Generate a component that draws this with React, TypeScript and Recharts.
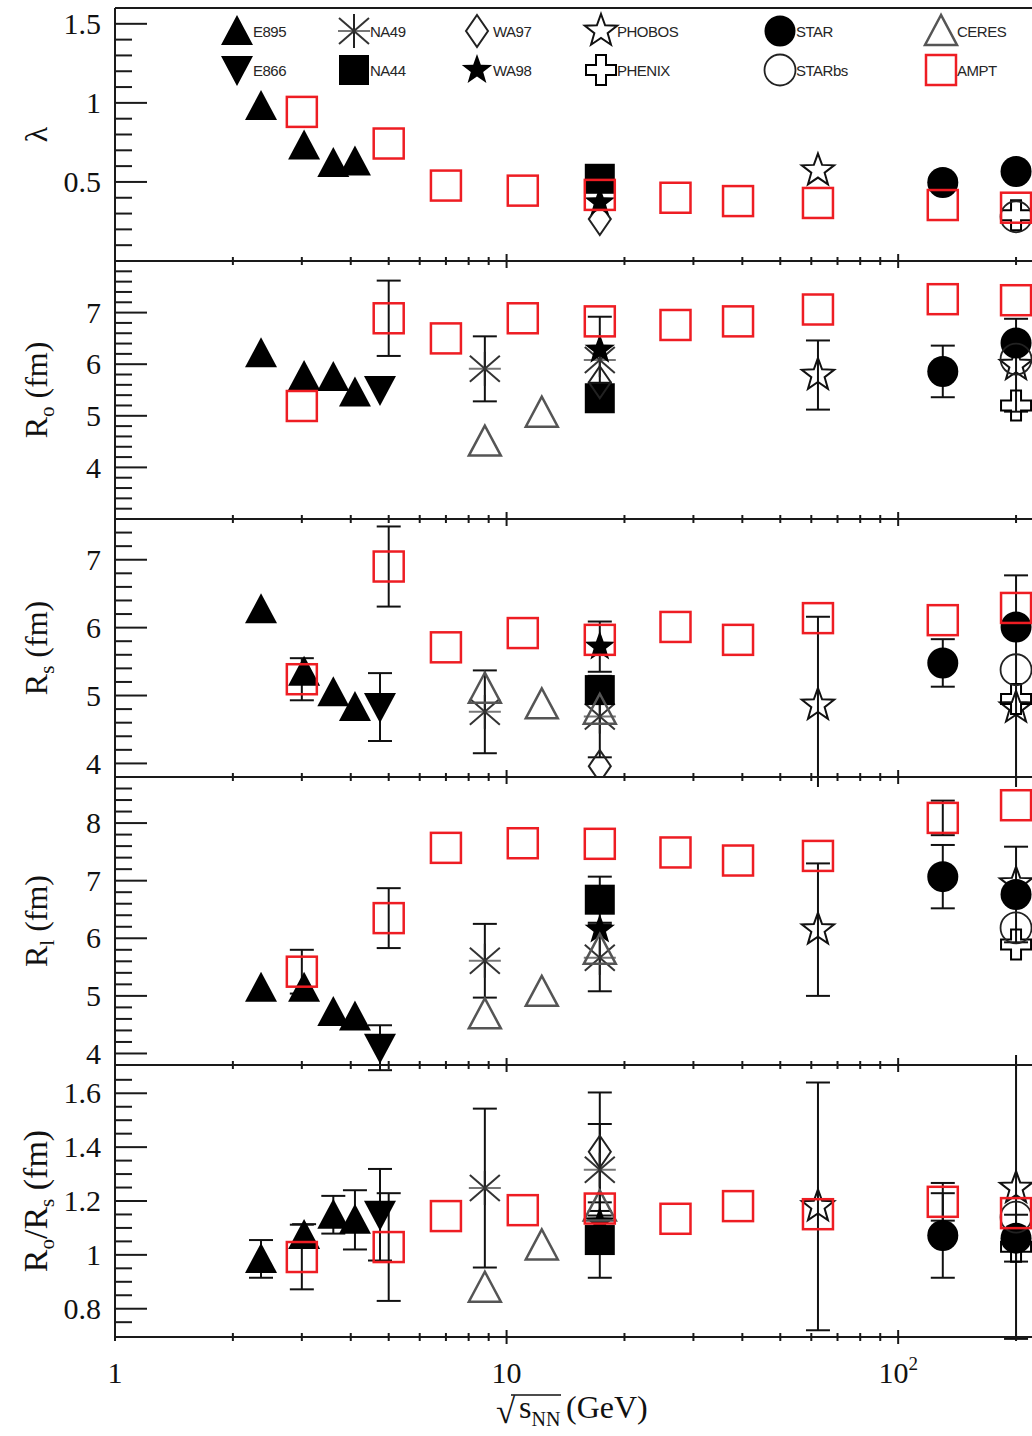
import React from 'react';
import { ScatterChart, Scatter, XAxis, YAxis, ErrorBar } from 'recharts';

type Exp =
  | 'E895' | 'E866' | 'NA49' | 'NA44' | 'WA97' | 'WA98'
  | 'PHOBOS' | 'PHENIX' | 'STAR' | 'STARbs' | 'CERES' | 'AMPT';
type Vals = Partial<Record<Exp, (number | null)[]>>;

// drawing order: experiments first, AMPT on top
const EXPERIMENTS: Exp[] = ['E895', 'E866', 'NA49', 'NA44', 'WA97', 'WA98', 'PHOBOS', 'PHENIX', 'STAR', 'STARbs', 'CERES', 'AMPT'];

// sqrt(s_NN) in GeV of every data set
const SQRT_S: Record<Exp, number[]> = {
  E895: [2.36, 3.04, 3.61, 4.1],
  E866: [4.75],
  NA49: [8.8, 17.3],
  NA44: [17.3],
  WA97: [17.3],
  WA98: [17.3],
  PHOBOS: [62.4, 200],
  PHENIX: [200],
  STAR: [130, 200],
  STARbs: [200],
  CERES: [8.8, 12.3, 17.3],
  AMPT: [3, 5, 7, 11, 17.3, 27, 39, 62.4, 130, 200],
};

// lambda
const LAMBDA: Vals = {
  E895: [0.98, 0.73, 0.62, 0.63],
  NA44: [0.52],
  WA97: [0.265],
  WA98: [0.37],
  PHOBOS: [0.572, null],
  PHENIX: [0.29],
  STAR: [0.496, 0.566],
  STARbs: [0.28],
  AMPT: [0.943, 0.743, 0.477, 0.445, 0.418, 0.4, 0.379, 0.367, 0.354, 0.337],
};
const LAMBDA_ERR: Vals = {};

// R_out (fm)
const R_OUT: Vals = {
  E895: [6.21, 5.77, 5.75, 5.45],
  E866: [5.5],
  NA49: [5.91, 6.08],
  NA44: [5.34],
  WA97: [5.65],
  WA98: [6.28],
  PHOBOS: [5.79, 5.98],
  PHENIX: [5.2],
  STAR: [5.86, 6.41],
  STARbs: [6.1],
  CERES: [4.5, 5.06, null],
  AMPT: [5.19, 6.89, 6.5, 6.89, 6.83, 6.76, 6.83, 7.06, 7.26, 7.24],
};
const R_OUT_ERR: Vals = {
  NA49: [0.63, null],
  WA98: [0.64],
  PHOBOS: [0.67, 0.9],
  STAR: [0.5, null],
  AMPT: [null, 0.73],
};

// R_side (fm)
const R_SIDE: Vals = {
  E895: [6.27, 5.35, 5.05, 4.83],
  E866: [4.83],
  NA49: [4.76, 4.69],
  NA44: [5.08],
  WA97: [3.96],
  WA98: [5.72],
  PHOBOS: [4.86, 4.82],
  PHENIX: [4.95],
  STAR: [5.48, 6.01],
  STARbs: [5.38],
  CERES: [5.1, 4.87, 4.79],
  AMPT: [5.24, 6.9, 5.71, 5.92, 5.82, 6.01, 5.82, 6.14, 6.11, 6.29],
};
const R_SIDE_ERR: Vals = {
  E866: [0.5],
  NA49: [0.61, 0.6],
  WA98: [0.37],
  PHOBOS: [1.3, 1.95],
  STAR: [0.35, null],
  AMPT: [0.31, 0.59],
};

// R_long (fm)
const R_LONG: Vals = {
  E895: [5.14, 5.14, 4.72, 4.64],
  E866: [4.1],
  NA49: [5.61, 5.66],
  NA44: [6.67],
  WA98: [6.15],
  PHOBOS: [6.15, 6.95],
  PHENIX: [5.89],
  STAR: [7.07, 6.76],
  STARbs: [6.18],
  CERES: [4.68, 5.07, 5.8],
  AMPT: [5.42, 6.35, 7.57, 7.65, 7.64, 7.49, 7.35, 7.43, 8.09, 8.31],
};
const R_LONG_ERR: Vals = {
  E866: [0.39],
  NA49: [0.64, 0.58],
  NA44: [0.4],
  PHOBOS: [1.15, null],
  STAR: [0.55, 0.83],
  AMPT: [0.38, 0.52, null, null, null, null, null, null, 0.3, null],
};

// R_out / R_side
const RATIO: Vals = {
  E895: [0.985, 1.074, 1.149, 1.13],
  E866: [1.149],
  NA49: [1.248, 1.316],
  NA44: [1.055],
  WA97: [1.383],
  WA98: [1.12],
  PHOBOS: [1.18, 1.248],
  PHENIX: [1.03],
  STAR: [1.072, 1.062],
  STARbs: [1.14],
  CERES: [0.878, 1.035, 1.18],
  AMPT: [0.992, 1.029, 1.144, 1.166, 1.172, 1.134, 1.181, 1.151, 1.197, 1.155],
};
const RATIO_ERR: Vals = {
  E895: [0.07, 0.04, 0.07, 0.11],
  E866: [0.17],
  NA49: [0.295, 0.17],
  NA44: [0.14],
  WA97: [0.22],
  PHOBOS: [0.46, 0.56],
  STAR: [0.157, 0.087],
  AMPT: [0.12, 0.2, null, null, null, null, null, null, 0.07, null],
};

const X_DOMAIN: [number, number] = [1, 300];
const X_TICKS = [1, 2, 3, 4, 5, 6, 7, 8, 9, 10, 20, 30, 40, 50, 60, 70, 80, 90, 100, 200, 300];
const X_MAJOR = [10, 100];

const LAMBDA_MAJOR = [0.5, 1, 1.5];
const R_OUT_MAJOR = [4, 5, 6, 7];
const R_SIDE_MAJOR = [4, 5, 6, 7];
const R_LONG_MAJOR = [4, 5, 6, 7, 8];
const RATIO_MAJOR = [0.8, 1, 1.2, 1.4, 1.6];

// legend grid: [name, column, row]
const LEGEND: [Exp, number, number][] = [
  ['E895', 0, 0], ['E866', 0, 1],
  ['NA49', 1, 0], ['NA44', 1, 1],
  ['WA97', 2, 0], ['WA98', 2, 1],
  ['PHOBOS', 3, 0], ['PHENIX', 3, 1],
  ['STAR', 4, 0], ['STARbs', 4, 1],
  ['CERES', 5, 0], ['AMPT', 5, 1],
];
const LEGEND_COLS = [237, 354, 477, 601, 780, 941];
const LEGEND_ROWS = [31, 70];

const FRAME = '#1a1a1a';
const RED = '#ee1d23';
const SERIF = '"Liberation Serif", "DejaVu Serif", serif';
const SANS = '"Liberation Sans", Arial, sans-serif';

const range = (a: number, b: number, s: number) => {
  const out: number[] = [];
  for (let v = a; v <= b + 1e-9; v += s) out.push(Math.round(v * 1000) / 1000);
  return out;
};

const starPoints = (cx: number, cy: number, R: number, r: number) => {
  const pts: string[] = [];
  for (let i = 0; i < 10; i++) {
    const a = -Math.PI / 2 + (i * Math.PI) / 5;
    const rad = i % 2 === 0 ? R : r;
    pts.push(`${cx + rad * Math.cos(a)},${cy + rad * Math.sin(a)}`);
  }
  return pts.join(' ');
};

function Marker({ kind, cx, cy }: { kind: Exp; cx: number; cy: number }) {
  if (cx == null || cy == null) return null;
  switch (kind) {
    case 'E895':
      return <polygon points={`${cx},${cy - 16} ${cx - 16},${cy + 14} ${cx + 16},${cy + 14}`} fill="#000" />;
    case 'E866':
      return <polygon points={`${cx - 16},${cy - 14} ${cx + 16},${cy - 14} ${cx},${cy + 16}`} fill="#000" />;
    case 'NA49':
      return (
        <g strokeWidth={2}>
          <line x1={cx} x2={cx} y1={cy - 17} y2={cy + 17} stroke="#222" />
          <line x1={cx - 16} x2={cx + 16} y1={cy} y2={cy} stroke="#777" />
          <line x1={cx - 15} x2={cx + 15} y1={cy - 13} y2={cy + 13} stroke="#333" />
          <line x1={cx - 15} x2={cx + 15} y1={cy + 13} y2={cy - 13} stroke="#333" />
        </g>
      );
    case 'NA44':
      return <rect x={cx - 15} y={cy - 15} width={30} height={30} fill="#000" />;
    case 'WA97':
      return <polygon points={`${cx},${cy - 16} ${cx + 11},${cy} ${cx},${cy + 16} ${cx - 11},${cy}`} fill="none" stroke="#222" strokeWidth={2} />;
    case 'WA98':
      return <polygon points={starPoints(cx, cy, 16, 6.5)} fill="#000" />;
    case 'PHOBOS':
      return <polygon points={starPoints(cx, cy, 17, 7)} fill="none" stroke="#111" strokeWidth={2} />;
    case 'PHENIX': {
      const a = 5, b = 15;
      const pts = [[-a, -b], [a, -b], [a, -a], [b, -a], [b, a], [a, a], [a, b], [-a, b], [-a, a], [-b, a], [-b, -a], [-a, -a]]
        .map(([dx, dy]) => `${cx + dx},${cy + dy}`).join(' ');
      return <polygon points={pts} fill="none" stroke="#000" strokeWidth={2} />;
    }
    case 'STAR':
      return <circle cx={cx} cy={cy} r={15.5} fill="#000" />;
    case 'STARbs':
      return <circle cx={cx} cy={cy} r={15.5} fill="none" stroke="#222" strokeWidth={1.8} />;
    case 'CERES':
      return <polygon points={`${cx},${cy - 16} ${cx - 16},${cy + 14} ${cx + 16},${cy + 14}`} fill="none" stroke="#555" strokeWidth={2.5} />;
    case 'AMPT':
      return <rect x={cx - 15} y={cy - 15} width={30} height={30} fill="none" stroke={RED} strokeWidth={2.5} />;
  }
  return null;
}

function XTick(props: any) {
  const { x, y, payload, withLabel } = props;
  const v = payload.value;
  const h = X_MAJOR.includes(v) ? 7 : 4;
  let label: React.ReactNode = null;
  if (withLabel && (v === 1 || v === 10 || v === 100)) {
    label = (
      <text x={x} y={y + 46} textAnchor="middle" fontSize={30} fontFamily={SERIF} fill="#111">
        {v === 100 ? <>10<tspan fontSize={19} dy={-13}>2</tspan></> : String(v)}
      </text>
    );
  }
  return (
    <g>
      <line x1={x} x2={x} y1={y - h} y2={y + h} stroke={FRAME} strokeWidth={2} />
      {label}
    </g>
  );
}

function YTick(props: any) {
  const { x, y, payload, majors } = props;
  const v = payload.value;
  const major = majors.some((m: number) => Math.abs(m - v) < 1e-6);
  return (
    <g>
      <line x1={x} x2={x + (major ? 32 : 17)} y1={y} y2={y} stroke={FRAME} strokeWidth={2} />
      {major && (
        <text x={x - 14} y={y} dy="0.34em" textAnchor="end" fontSize={30} fontFamily={SERIF} fill="#111">
          {String(v)}
        </text>
      )}
    </g>
  );
}

function YTitle({ id, cy }: { id: string; cy: number }) {
  const bx = 47;
  let body: React.ReactNode = 'λ';
  if (id === 'ro') body = <>R<tspan fontSize={21} dy={7}>o</tspan><tspan dy={-7}> (fm)</tspan></>;
  if (id === 'rs') body = <>R<tspan fontSize={21} dy={7}>s</tspan><tspan dy={-7}> (fm)</tspan></>;
  if (id === 'rl') body = <>R<tspan fontSize={21} dy={7}>l</tspan><tspan dy={-7}> (fm)</tspan></>;
  if (id === 'ratio')
    body = <>R<tspan fontSize={21} dy={7}>o</tspan><tspan dy={-7}>/R</tspan><tspan fontSize={21} dy={7}>s</tspan><tspan dy={-7}> (fm)</tspan></>;
  return (
    <text x={bx} y={cy} transform={`rotate(-90 ${bx} ${cy})`} textAnchor="middle" fontSize={id === 'ratio' ? 34 : 32} fontFamily={SERIF} fill="#111">
      {body}
    </text>
  );
}

function XTitle({ axisY }: { axisY: number }) {
  return (
    <g fontFamily={SERIF} fill="#111">
      <text x={496} y={axisY + 86} fontSize={35}>√</text>
      <line x1={511} x2={561} y1={axisY + 58} y2={axisY + 58} stroke="#111" strokeWidth={1.5} />
      <text x={519} y={axisY + 81} fontSize={32}>s<tspan fontSize={20} dy={8}>NN</tspan></text>
      <text x={566} y={axisY + 81} fontSize={32}>(GeV)</text>
    </g>
  );
}

type PanelCfg = {
  id: string;
  top: number;
  bottom: number;
  domain: [number, number];
  majors: number[];
  minors: number[];
  vals: Vals;
  errs: Vals;
};

const PANELS: PanelCfg[] = [
  { id: 'lambda', top: 8, bottom: 261, domain: [0, 1.6], majors: LAMBDA_MAJOR, minors: range(0.1, 1.5, 0.1), vals: LAMBDA, errs: LAMBDA_ERR },
  { id: 'ro', top: 261, bottom: 519, domain: [3, 8], majors: R_OUT_MAJOR, minors: range(3.2, 7.8, 0.2), vals: R_OUT, errs: R_OUT_ERR },
  { id: 'rs', top: 519, bottom: 777, domain: [3.8, 7.6], majors: R_SIDE_MAJOR, minors: range(4, 7.4, 0.2), vals: R_SIDE, errs: R_SIDE_ERR },
  { id: 'rl', top: 777, bottom: 1065, domain: [3.8, 8.8], majors: R_LONG_MAJOR, minors: range(4, 8.6, 0.2), vals: R_LONG, errs: R_LONG_ERR },
  { id: 'ratio', top: 1065, bottom: 1337, domain: [0.695, 1.705], majors: RATIO_MAJOR, minors: range(0.75, 1.65, 0.05), vals: RATIO, errs: RATIO_ERR },
];

const seriesData = (vals: Vals, errs: Vals, exp: Exp) => {
  const ys = vals[exp] ?? [];
  const es = errs[exp] ?? [];
  return SQRT_S[exp]
    .map((x, i) => ({ x, y: ys[i], err: es[i] ?? undefined }))
    .filter((d) => d.y != null);
};

function Panel({ cfg, last }: { cfg: PanelCfg; last: boolean }) {
  const plotH = cfg.bottom - cfg.top;
  const padTop = 10;
  const padBottom = last ? 110 : 10;
  const height = plotH + padTop + padBottom;
  const axisLine = { stroke: FRAME, strokeWidth: 2 };
  return (
    <div style={{ position: 'absolute', left: 0, top: cfg.top - padTop }}>
      <ScatterChart width={1100} height={height} margin={{ top: 0, right: 15, bottom: 0, left: 0 }}>
        <XAxis
          xAxisId="top" orientation="top" type="number" scale="log" domain={X_DOMAIN} allowDataOverflow
          ticks={X_TICKS} interval={0} height={padTop} tickSize={0} tickMargin={0} tickLine={false}
          axisLine={axisLine} tick={(p: any) => <XTick {...p} />}
        />
        <XAxis
          dataKey="x" type="number" scale="log" domain={X_DOMAIN} allowDataOverflow
          ticks={X_TICKS} interval={0} height={padBottom} tickSize={0} tickMargin={0} tickLine={false}
          axisLine={axisLine} tick={(p: any) => <XTick {...p} withLabel={last} />}
          label={last ? { content: () => <XTitle axisY={padTop + plotH} /> } : undefined}
        />
        <YAxis
          dataKey="y" type="number" domain={cfg.domain} allowDataOverflow
          ticks={cfg.minors} interval={0} width={115} tickSize={0} tickMargin={0} tickLine={false}
          axisLine={axisLine} tick={(p: any) => <YTick {...p} majors={cfg.majors} />}
          label={{ content: () => <YTitle id={cfg.id} cy={padTop + plotH / 2} /> }}
        />
        {EXPERIMENTS.map((exp) => {
          const data = seriesData(cfg.vals, cfg.errs, exp);
          if (!data.length) return null;
          const hasErr = data.some((d) => d.err != null);
          return (
            <Scatter
              key={exp}
              name={exp}
              data={data}
              isAnimationActive={false}
              shape={(p: any) => <Marker kind={exp} cx={p.cx} cy={p.cy} />}
            >
              {hasErr && <ErrorBar dataKey="err" direction="y" width={12} stroke="#111" strokeWidth={2} />}
            </Scatter>
          );
        })}
      </ScatterChart>
    </div>
  );
}

function LegendBox() {
  return (
    <svg width={1032} height={100} style={{ position: 'absolute', left: 0, top: 0 }}>
      {LEGEND.map(([name, col, row]) => {
        const cx = LEGEND_COLS[col];
        const cy = LEGEND_ROWS[row];
        return (
          <g key={name}>
            <Marker kind={name} cx={cx} cy={cy} />
            <text x={cx + 16} y={cy + 6} fontSize={15} fontFamily={SANS} fill="#262626" letterSpacing={-0.5}>
              {name}
            </text>
          </g>
        );
      })}
    </svg>
  );
}

export default function App() {
  return (
    <div style={{ position: 'absolute', left: 0, top: 0, width: 1032, height: 1436, overflow: 'hidden', background: '#fff' }}>
      {PANELS.map((cfg, i) => (
        <Panel key={cfg.id} cfg={cfg} last={i === PANELS.length - 1} />
      ))}
      <LegendBox />
    </div>
  );
}
